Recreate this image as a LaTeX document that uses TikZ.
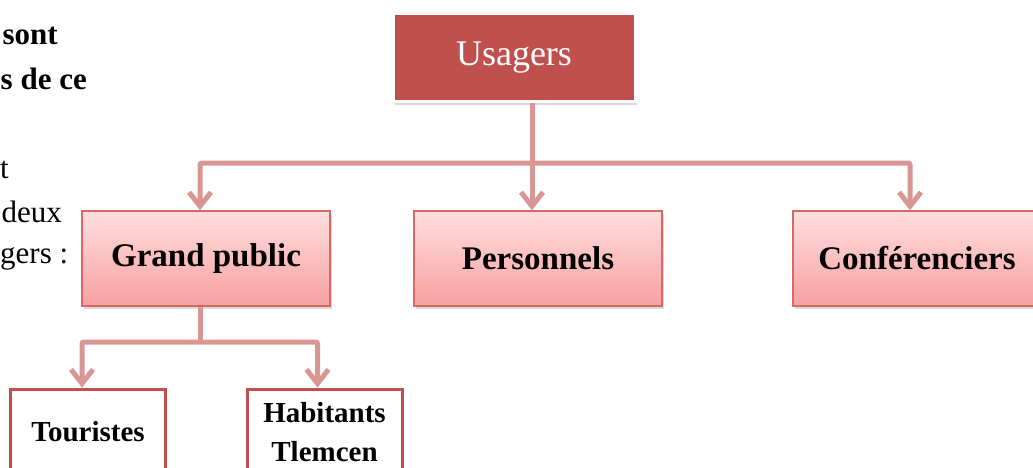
\documentclass[tikz,border=0pt]{standalone}
\usepackage{fontspec}
\setmainfont{Liberation Serif}
\usetikzlibrary{
	arrows.meta,
	calc,
	positioning,
	shadows
}
\definecolor{usagerred}{RGB}{192,80,77}
\definecolor{linkred}{RGB}{217,150,148}
\definecolor{pinktop}{RGB}{255,222,222}
\definecolor{pinkbot}{RGB}{247,160,160}
\definecolor{boxedge}{RGB}{214,104,104}

\begin{document}
\begin{tikzpicture}[
			x=1pt, y=-1pt,
			root/.style={
				rectangle,
				draw=white,
				line width=3pt,
				fill=usagerred,
				text=white,
				minimum width=242pt,
				minimum height=88pt,
				inner sep=0pt,
				font=\fontsize{36}{40}\selectfont,
				drop shadow={opacity=0.3, shadow xshift=2pt, shadow yshift=-3pt}
			},
			box/.style={
				rectangle,
				draw=boxedge,
				line width=1.5pt,
				top color=pinktop,
				bottom color=pinkbot,
				minimum width=248pt,
				minimum height=95pt,
				inner sep=0pt,
				font=\fontsize{33}{40}\selectfont\bfseries,
				drop shadow={opacity=0.3, shadow xshift=2pt, shadow yshift=-3pt}
			},
			leaf/.style={
				rectangle,
				draw=usagerred,
				line width=3pt,
				fill=white,
				minimum width=155pt,
				minimum height=86pt,
				inner sep=0pt,
				align=center,
				font=\fontsize{29}{39}\selectfont\bfseries
			},
			bodytext/.style={
				anchor=base east,
				inner sep=0pt,
				font=\fontsize{31}{37}\selectfont
			},
			link/.style={
				draw=linkred,
				line width=5pt,
				rounded corners=2pt
			},
			arr/.style={
				link,
				-{Straight Barb[length=14pt,width=22pt]}
			}
			]
			
			\useasboundingbox (0,0) rectangle (1033,468);
			\clip (0,0) rectangle (1033,468);
			
			% text of the page, cut at the left edge
			\node[bodytext, font=\fontsize{31}{37}\selectfont\bfseries] (l1) at (58,45) {sont};
			\node[bodytext, font=\fontsize{31}{37}\selectfont\bfseries] (l2) at (87,90) {s de ce};
			\node[bodytext, anchor=base west] (l3) at (0,178) {t};
			\node[bodytext] (l4) at (62,222) {deux};
			\node[bodytext, anchor=base west] (l5) at (0,263) {gers :};
			
			\node[root] (usagers) at (514,58) {Usagers};
			
			\node[box] (gp) at (206,258.5) {Grand public};
			\node[box] (pers) at (538,258.5) {Personnels};
			\node[box] (conf) at (917,258.5) {Conférenciers};
			
			\node[leaf] (tour) at (88,432) {Touristes};
			\node[leaf] (hab) at (324.5,432) {Habitants\\Tlemcen};
			
			\coordinate (split) at (532,163);
			\coordinate (gpsplit) at (200,342);
			
			\draw[link] (usagers.south -| split) -- (split);
			\draw[arr] (split) -| ([xshift=-6pt]gp.north);
			\draw[arr] (split) -- (split |- pers.north);
			\draw[arr] (split) -| ([xshift=-7pt]conf.north);
			
			\draw[link] (gp.south -| gpsplit) -- (gpsplit);
			\draw[arr] (gpsplit) -| ([xshift=-6pt]tour.north);
			\draw[arr] (gpsplit) -| ([xshift=-7pt]hab.north);
			
		\end{tikzpicture}
\end{document}
